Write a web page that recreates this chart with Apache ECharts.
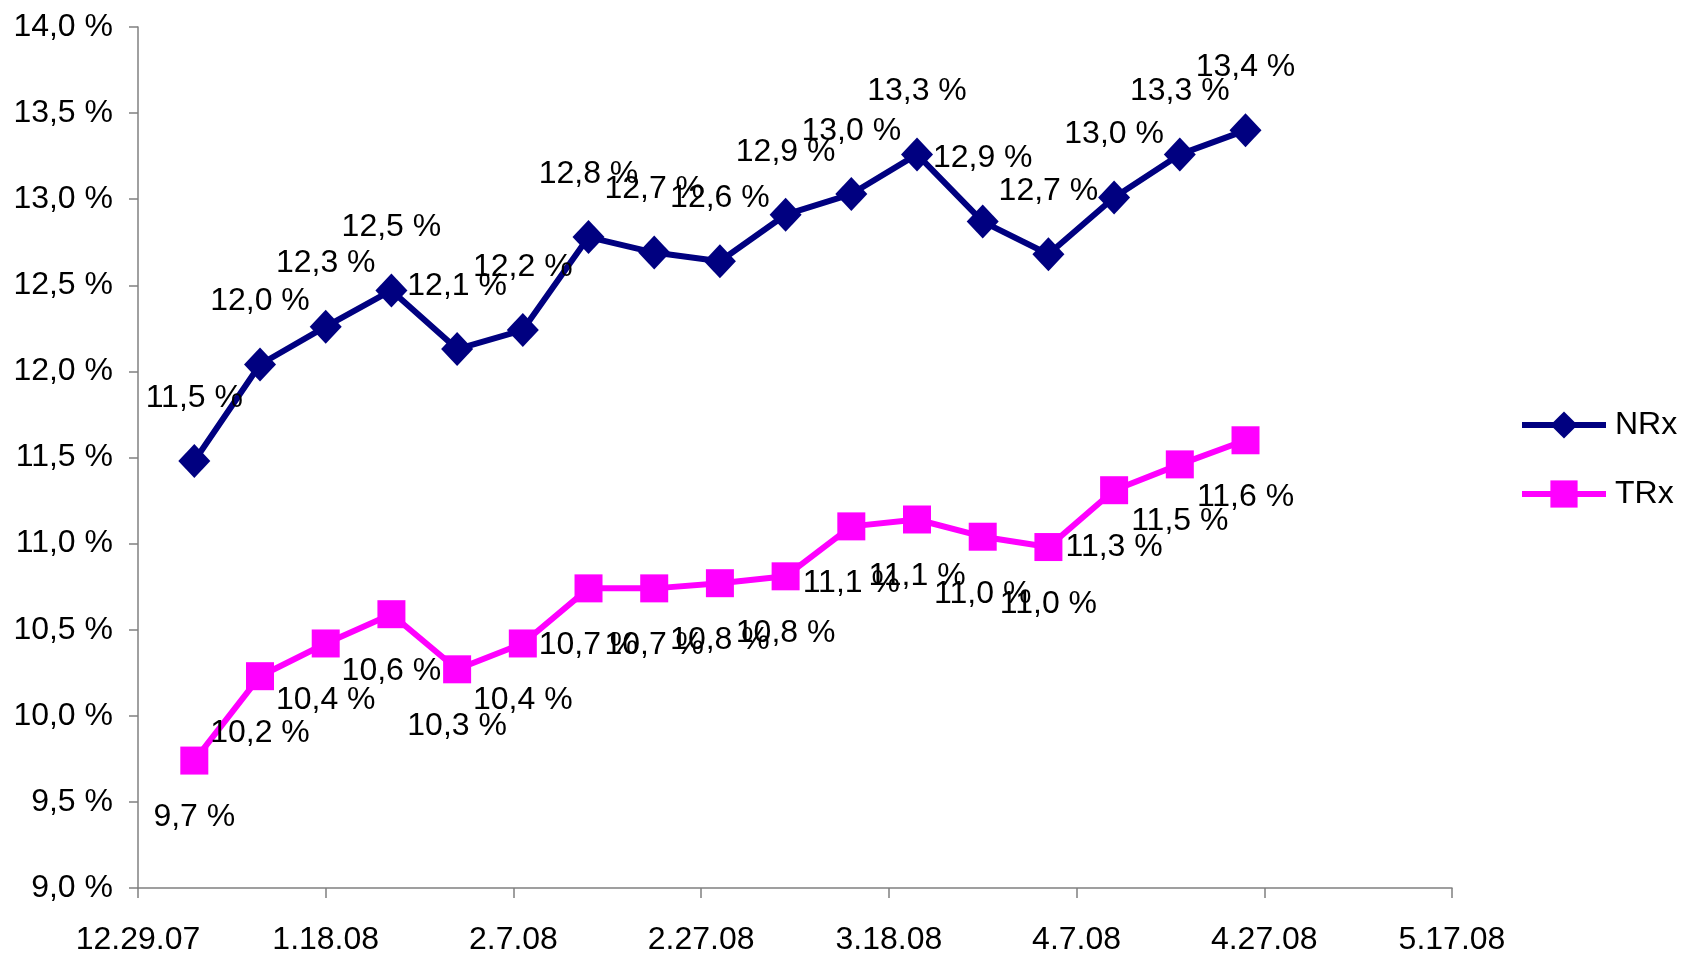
<!DOCTYPE html>
<html>
<head>
<meta charset="utf-8">
<style>
  html, body { margin: 0; padding: 0; background: #ffffff; }
  #chart { width: 1689px; height: 958px; }
</style>
<script src="https://cdn.jsdelivr.net/npm/echarts@6/dist/echarts.min.js"></script>
</head>
<body>
<div id="chart"></div>
<script>
// Weekly observation dates
const dates = [
  '2008-01-04', '2008-01-11', '2008-01-18', '2008-01-25', '2008-02-01',
  '2008-02-08', '2008-02-15', '2008-02-22', '2008-02-29', '2008-03-07',
  '2008-03-14', '2008-03-21', '2008-03-28', '2008-04-04', '2008-04-11',
  '2008-04-18', '2008-04-25'
];

// Share values in percent
const nrx = [11.48, 12.04, 12.26, 12.47, 12.13, 12.24, 12.78, 12.69, 12.64,
             12.91, 13.03, 13.26, 12.87, 12.68, 13.01, 13.26, 13.40];
const trx = [9.74, 10.23, 10.42, 10.59, 10.27, 10.42, 10.74, 10.74, 10.77,
             10.81, 11.10, 11.14, 11.04, 10.98, 11.31, 11.46, 11.60];

// Date axis ticks, every 20 days starting 12/29/2007
const axisStart = '2007-12-29';
const xTickLabels = ['12.29.07', '1.18.08', '2.7.08', '2.27.08', '3.18.08',
                     '4.7.08', '4.27.08', '5.17.08'];

const DAY = 86400000;
const startMs = Date.parse(axisStart + 'T00:00:00Z');
const dayOffset = d => Math.round((Date.parse(d + 'T00:00:00Z') - startMs) / DAY);

const fmtPct = v => v.toFixed(1).replace('.', ',') + ' %';
const FONT = "'Liberation Sans', Arial, sans-serif";
const NAVY = '#000080';
const MAGENTA = '#FF00FF';

const chart = echarts.init(document.getElementById('chart'), null, { renderer: 'canvas' });

chart.setOption({
  backgroundColor: '#ffffff',
  animation: false,
  textStyle: { fontFamily: FONT },
  grid: { left: 138, right: 237, top: 27, bottom: 70, containLabel: false },
  legend: {
    orient: 'vertical',
    left: 1514,
    top: 404,
    itemWidth: 84,
    itemHeight: 34,
    itemGap: 37,
    textStyle: { fontSize: 32, color: '#000', fontFamily: FONT, padding: [0, 0, 0, 4] },
    data: [
      { name: 'NRx', lineStyle: { width: 6, color: NAVY }, itemStyle: { color: NAVY } },
      { name: 'TRx', lineStyle: { width: 6, color: MAGENTA }, itemStyle: { color: MAGENTA } }
    ]
  },
  xAxis: {
    type: 'value',
    min: 0,
    max: 20 * (xTickLabels.length - 1),
    interval: 20,
    axisLine: { show: true, lineStyle: { color: '#808080', width: 1.5 } },
    axisTick: { show: true, length: 10, lineStyle: { color: '#808080', width: 1.5 } },
    splitLine: { show: false },
    axisLabel: {
      fontSize: 32,
      color: '#000',
      fontFamily: FONT,
      margin: 36,
      formatter: v => xTickLabels[Math.round(v / 20)] || ''
    }
  },
  yAxis: {
    type: 'value',
    min: 9,
    max: 14,
    interval: 0.5,
    axisLine: { show: true, lineStyle: { color: '#808080', width: 1.5 } },
    axisTick: { show: true, length: 9, lineStyle: { color: '#808080', width: 1.5 } },
    splitLine: { show: false },
    axisLabel: {
      fontSize: 32,
      color: '#000',
      fontFamily: FONT,
      margin: 25,
      formatter: v => fmtPct(v)
    }
  },
  series: [
    {
      name: 'NRx',
      type: 'line',
      data: dates.map((d, i) => [dayOffset(d), nrx[i]]),
      symbol: 'diamond',
      symbolSize: [32, 34],
      itemStyle: { color: NAVY },
      lineStyle: { color: NAVY, width: 6 },
      label: {
        show: true,
        position: 'top',
        distance: 30,
        fontSize: 32,
        color: '#000',
        fontFamily: FONT,
        formatter: p => fmtPct(p.value[1])
      }
    },
    {
      name: 'TRx',
      type: 'line',
      data: dates.map((d, i) => [dayOffset(d), trx[i]]),
      symbol: 'rect',
      symbolSize: 28,
      itemStyle: { color: MAGENTA },
      lineStyle: { color: MAGENTA, width: 6 },
      label: {
        show: true,
        position: 'bottom',
        distance: 27,
        fontSize: 32,
        color: '#000',
        fontFamily: FONT,
        formatter: p => fmtPct(p.value[1])
      }
    }
  ]
});
</script>
</body>
</html>
